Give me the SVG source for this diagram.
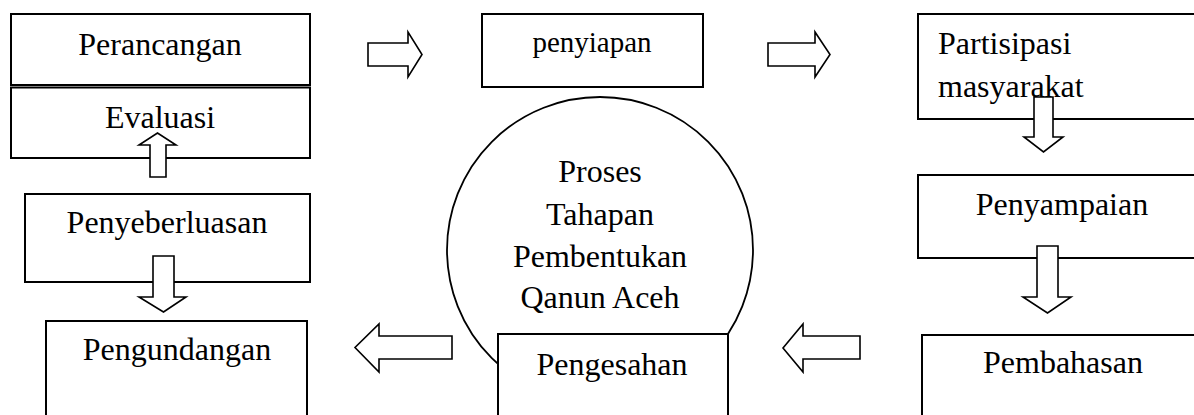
<svg xmlns="http://www.w3.org/2000/svg" width="1194" height="415" viewBox="0 0 1194 415">
<style>
.box{fill:#fff;stroke:#000;stroke-width:2}
.circ{fill:#fff;stroke:#000;stroke-width:1.8}
.arr{fill:#fff;stroke:#000;stroke-width:1.6;stroke-linejoin:miter}
.t{font-family:'Liberation Serif','DejaVu Serif',serif;font-size:32px;fill:#000}
.c{text-anchor:middle}
.s{font-size:29px}
</style>
<rect width="1194" height="415" fill="#fff"/>
<g id="node-circle">
<circle class="circ" cx="600" cy="250" r="153"/>
<text class="t c" x="600" y="182">Proses</text>
<text class="t c" x="600" y="225">Tahapan</text>
<text class="t c" x="600" y="267">Pembentukan</text>
<text class="t c" x="600" y="308">Qanun Aceh</text>
</g>
<g id="node-perancangan">
<rect class="box" x="11" y="14" width="299" height="71"/>
<text class="t c" x="160" y="55">Perancangan</text>
</g>
<g id="node-evaluasi">
<rect class="box" x="11" y="87.5" width="299" height="70.5"/>
<text class="t c" x="160" y="128">Evaluasi</text>
</g>
<g id="node-penyeberluasan">
<rect class="box" x="25" y="194" width="285" height="88"/>
<text class="t c" x="167" y="233">Penyeberluasan</text>
</g>
<g id="node-pengundangan">
<rect class="box" x="46" y="321" width="261" height="110"/>
<text class="t c" x="177" y="360">Pengundangan</text>
</g>
<g id="node-pengesahan">
<rect class="box" x="498" y="334" width="230" height="100"/>
<text class="t c" x="612" y="375">Pengesahan</text>
</g>
<g id="node-penyiapan">
<rect class="box" x="482" y="14" width="221" height="73"/>
<text class="t c s" x="592" y="52">penyiapan</text>
</g>
<g id="node-partisipasi">
<rect class="box" x="918" y="14" width="290" height="105"/>
<text class="t" x="938" y="54">Partisipasi</text>
<text class="t" x="938" y="97">masyarakat</text>
</g>
<g id="node-penyampaian">
<rect class="box" x="918" y="175" width="290" height="83"/>
<text class="t c" x="1062" y="215">Penyampaian</text>
</g>
<g id="node-pembahasan">
<rect class="box" x="922" y="335" width="290" height="100"/>
<text class="t c" x="1063" y="373">Pembahasan</text>
</g>
<g id="connectors">
<polygon class="arr" points="368,43 408,43 408,32 422,54.5 408,77 408,66 368,66"/>
<polygon class="arr" points="768,43 815,43 815,32 830,54.5 815,77 815,66 768,66"/>
<polygon class="arr" points="1034,97 1053,97 1053,137 1063,137 1043.5,152 1024,137 1034,137"/>
<polygon class="arr" points="1037,246 1058,246 1058,297 1071,297 1047.5,313 1023,297 1037,297"/>
<polygon class="arr" points="860,336 860,359 803,359 803,372 783,348 803,324 803,336"/>
<polygon class="arr" points="452,336 452,359 379,359 379,372 355,347.5 379,324 379,336"/>
<polygon class="arr" points="153,256 174,256 174,297 186,297 163.5,312 139,297 153,297"/>
<polygon class="arr" points="150,177 166,177 166,145 176,145 157.5,133 139,145 150,145"/>
</g>
</svg>
